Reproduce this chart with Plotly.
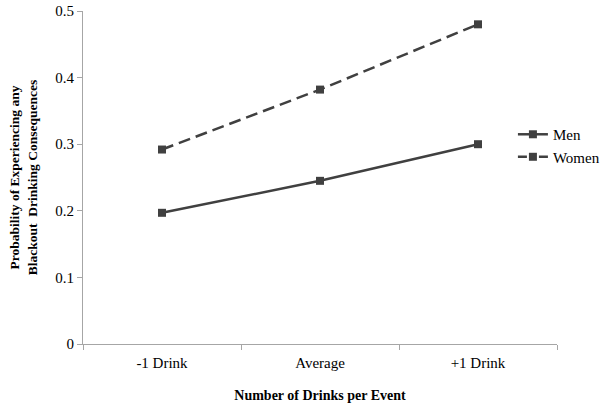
import plotly.graph_objects as go

categories = ["-1 Drink", "Average", "+1 Drink"]
men = [0.197, 0.245, 0.300]
women = [0.292, 0.382, 0.480]
y_ticks = [0, 0.1, 0.2, 0.3, 0.4, 0.5]
y_tick_labels = ["0", "0.1", "0.2", "0.3", "0.4", "0.5"]

FONT = "Liberation Serif, Times New Roman, serif"
LINE_COLOR = "#404040"
AXIS_COLOR = "#a6a6a6"

fig = go.Figure()
fig.add_trace(go.Scatter(
    x=categories, y=men, name="Men", mode="lines+markers",
    line=dict(color=LINE_COLOR, width=2.5),
    marker=dict(symbol="square", size=8, color=LINE_COLOR),
    legendgroup="men",
))
fig.add_trace(go.Scatter(
    x=categories, y=women, name="Women", mode="lines+markers",
    line=dict(color=LINE_COLOR, width=2.5, dash="12px,6px"),
    marker=dict(symbol="square", size=8, color=LINE_COLOR),
    legendgroup="women", showlegend=False,
))
# legend entry for Women (dash pattern tuned for the short legend sample)
fig.add_trace(go.Scatter(
    x=[None], y=[None], name="Women", mode="lines+markers",
    line=dict(color=LINE_COLOR, width=2.5, dash="9px,12px"),
    marker=dict(symbol="square", size=8, color=LINE_COLOR),
    legendgroup="women", showlegend=True,
))

fig.update_layout(
    width=603, height=407,
    margin=dict(l=83, r=46, t=11, b=63, autoexpand=False),
    paper_bgcolor="white", plot_bgcolor="white",
    font=dict(family=FONT, size=15, color="#000000"),
    showlegend=True,
    legend=dict(
        x=0.907, y=0.596, xanchor="left", yanchor="middle",
        bgcolor="rgba(0,0,0,0)", font=dict(family=FONT, size=15),
        itemwidth=30, tracegroupgap=0,
    ),
    xaxis=dict(
        type="category", range=[-0.5, 2.5], automargin=False,
        showline=True, linecolor=AXIS_COLOR, linewidth=1,
        ticks="outside", tickcolor=AXIS_COLOR, ticklen=5,
        tickson="boundaries", showgrid=False, zeroline=False,
        tickfont=dict(family=FONT, size=15), ticklabelstandoff=5,
        title=dict(text="<b>Number of Drinks per Event</b>",
                   font=dict(family=FONT, size=14), standoff=20),
    ),
    yaxis=dict(
        range=[0, 0.5], tickvals=y_ticks, ticktext=y_tick_labels, automargin=False,
        showline=True, linecolor=AXIS_COLOR, linewidth=1,
        ticks="outside", tickcolor=AXIS_COLOR, ticklen=5,
        showgrid=False, zeroline=False,
        tickfont=dict(family=FONT, size=15),
        title=dict(text="<b>Probability of Experiencing any<br>Blackout  Drinking Consequences</b>",
                   font=dict(family=FONT, size=13.5), standoff=14),
    ),
)

fig.write_html("out.html", config={"displayModeBar": False},
               post_script="document.body.style.margin='0';")
